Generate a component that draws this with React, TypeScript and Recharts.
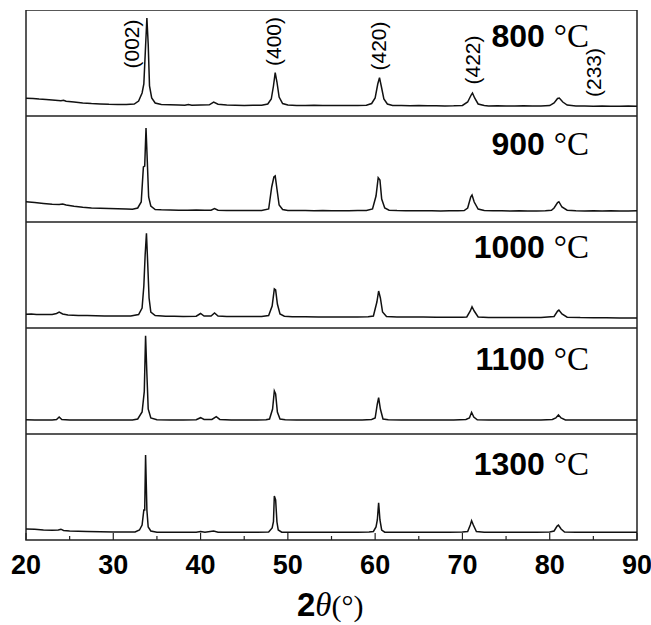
import { LineChart, Line, XAxis, YAxis, ReferenceArea, ReferenceDot } from 'recharts'

// 2θ (deg), intensity (a.u.)
const xrd800: [number, number][] = [
  [20, 178], [20.8, 176], [21.5, 170], [22.3, 166], [23, 160], [24, 152], [24.3, 158], [24.6, 148],
  [25.5, 140], [26.5, 130], [27.5, 124], [28.5, 120], [29.5, 117], [30.5, 116], [31.5, 115], [32.4, 120],
  [32.9, 150], [33.3, 230], [33.5, 320], [33.7, 700], [33.85, 980], [34.0, 720], [34.15, 300], [34.4, 180],
  [34.8, 130], [35.5, 115], [36.5, 112], [37.5, 110], [38.2, 108], [38.6, 115], [39, 108], [40, 110],
  [41, 112], [41.5, 140], [42, 118], [43, 110], [44, 108], [45, 106], [46, 108], [47, 108],
  [47.7, 120], [48.1, 170], [48.35, 300], [48.55, 433], [48.75, 340], [49.0, 190], [49.4, 125], [50, 110],
  [51, 106], [52, 104], [53, 108], [54, 104], [55, 106], [56, 104], [57, 104], [58, 106],
  [59, 108], [59.6, 125], [60.0, 180], [60.3, 320], [60.5, 383], [60.7, 300], [61.0, 170], [61.4, 120],
  [62, 106], [63, 104], [64, 102], [65, 104], [66, 102], [67, 102], [68, 100], [69, 102],
  [70, 106], [70.6, 140], [71.0, 210], [71.15, 230], [71.4, 180], [71.8, 120], [72.5, 104], [73, 100],
  [74, 102], [75, 100], [76, 100], [77, 102], [78, 100], [79, 100], [80, 104], [80.5, 130],
  [80.9, 175], [81.1, 180], [81.5, 140], [82, 110], [83, 100], [84, 100], [85, 98], [86, 100],
  [87, 98], [88, 98], [89, 100], [90, 98],
]

const xrd900: [number, number][] = [
  [20, 203], [21, 195], [22, 186], [23, 178], [23.8, 176], [24.2, 180], [24.6, 170], [25.5, 158],
  [26.5, 148], [27.5, 141], [28.5, 137], [29.5, 134], [30.5, 132], [31.5, 130], [32.2, 128], [32.8, 140],
  [33.2, 200], [33.45, 550], [33.6, 560], [33.75, 940], [33.9, 600], [34.05, 250], [34.3, 160], [34.8, 125],
  [35.5, 122], [36.5, 120], [37.5, 118], [38.5, 118], [39.5, 120], [40.5, 118], [41.2, 118], [41.6, 135],
  [42, 118], [43, 116], [44, 115], [45, 115], [46, 114], [47, 115], [47.8, 130], [48.15, 350],
  [48.4, 450], [48.55, 460], [48.75, 330], [49.0, 170], [49.4, 125], [50, 116], [51, 114], [52, 115],
  [53, 113], [54, 114], [55, 112], [56, 113], [57, 112], [58, 114], [59, 114], [59.7, 130],
  [60.1, 260], [60.35, 443], [60.55, 420], [60.75, 230], [61.1, 140], [61.6, 118], [62.5, 114], [63.5, 112],
  [64.5, 113], [65.5, 112], [66.5, 112], [67.5, 110], [68.5, 112], [69.5, 112], [70.2, 115], [70.6, 140],
  [70.95, 250], [71.1, 270], [71.35, 200], [71.8, 130], [72.5, 114], [73.5, 112], [74.5, 112], [75.5, 110],
  [76.5, 112], [77.5, 110], [78.5, 110], [79.5, 112], [80.2, 118], [80.5, 140], [80.9, 195], [81.05, 203],
  [81.4, 150], [82, 118], [83, 112], [84, 110], [85, 112], [86, 110], [87, 112], [88, 110],
  [89, 110], [90, 112],
]

const xrd1000: [number, number][] = [
  [20, 137], [20.6, 140], [21.2, 134], [22, 136], [23, 135], [23.5, 145], [23.8, 158], [24.2, 140],
  [24.8, 130], [26, 125], [27, 124], [28, 122], [29, 121], [30, 120], [31, 120], [32, 120],
  [32.9, 135], [33.3, 200], [33.5, 420], [33.65, 730], [33.8, 947], [33.95, 630], [34.1, 300], [34.3, 160],
  [34.8, 125], [36, 118], [37, 117], [38, 116], [39.5, 118], [40.0, 145], [40.4, 120], [41.2, 120],
  [41.6, 150], [42, 120], [43, 116], [44, 115], [45, 115], [46, 114], [47, 115], [47.8, 125],
  [48.2, 220], [48.45, 390], [48.6, 380], [48.8, 240], [49.1, 140], [49.6, 118], [50.5, 113], [52, 112],
  [53.5, 110], [55, 110], [56.5, 111], [58, 110], [59.2, 112], [59.8, 120], [60.2, 260], [60.4, 370],
  [60.6, 300], [60.85, 160], [61.3, 115], [62.5, 110], [64, 110], [65.5, 109], [67, 108], [68.5, 108],
  [70, 108], [70.5, 110], [70.9, 170], [71.1, 213], [71.35, 170], [71.8, 110], [73, 106], [74.5, 105],
  [76, 105], [77.5, 104], [79, 105], [80.5, 115], [80.9, 170], [81.05, 180], [81.4, 140], [82, 108],
  [83.5, 104], [85, 103], [86.5, 102], [88, 101], [90, 100],
]

const xrd1100: [number, number][] = [
  [20, 142], [21, 140], [22, 141], [23, 140], [23.5, 145], [23.8, 170], [24.1, 145], [25, 140],
  [26.5, 141], [28, 140], [29.5, 140], [31, 140], [32.2, 141], [32.8, 150], [33.3, 220], [33.55, 423],
  [33.7, 983], [33.85, 600], [34.0, 250], [34.3, 160], [35, 142], [36.5, 140], [38, 141], [39.5, 142],
  [40.0, 163], [40.4, 145], [41.3, 145], [41.8, 173], [42.2, 146], [43.5, 141], [45, 140], [46.5, 141],
  [47.5, 142], [47.9, 150], [48.25, 250], [48.45, 430], [48.6, 400], [48.8, 220], [49.1, 150], [49.7, 142],
  [51, 141], [52.5, 140], [54, 141], [55.5, 140], [57, 140], [58.5, 141], [59.6, 145], [60.0, 160],
  [60.25, 300], [60.4, 363], [60.6, 250], [60.9, 150], [61.5, 142], [63, 140], [64.5, 141], [66, 140],
  [67.5, 140], [69, 141], [70.4, 145], [70.8, 160], [71.05, 217], [71.3, 170], [71.7, 142], [73, 140],
  [74.5, 141], [76, 140], [77.5, 140], [79, 141], [80.3, 145], [80.7, 160], [81.0, 190], [81.3, 160],
  [81.8, 140], [83, 140], [84.5, 141], [86, 140], [87.5, 140], [89, 141], [90, 140],
]

const xrd1300: [number, number][] = [
  [20, 110], [21, 108], [22, 100], [23, 98], [23.7, 100], [24, 108], [24.3, 95], [25, 90],
  [26, 87], [27, 85], [28.5, 82], [30, 80], [31.5, 80], [32.5, 80], [33.0, 100], [33.3, 150],
  [33.5, 300], [33.6, 300], [33.7, 850], [33.85, 300], [34.0, 130], [34.3, 90], [35, 78], [36.5, 78],
  [38, 77], [39.5, 78], [40, 85], [40.5, 78], [41.5, 90], [42, 78], [43.5, 77], [45, 78],
  [46.5, 78], [47.8, 80], [48.2, 120], [48.35, 183], [48.45, 440], [48.6, 400], [48.75, 180], [48.9, 100],
  [49.3, 78], [50.5, 77], [52, 77], [53.5, 78], [55, 77], [56.5, 77], [58, 78], [59.3, 80],
  [59.8, 85], [60.1, 130], [60.25, 200], [60.4, 373], [60.55, 200], [60.75, 100], [61.1, 78], [62.5, 77],
  [64, 77], [65.5, 77], [67, 78], [68.5, 77], [70, 80], [70.6, 85], [70.9, 150], [71.05, 193],
  [71.25, 150], [71.6, 85], [72.5, 78], [74, 77], [75.5, 77], [77, 78], [78.5, 77], [80, 80],
  [80.5, 90], [80.85, 140], [81.0, 150], [81.3, 110], [81.7, 80], [83, 78], [84.5, 77], [86, 78],
  [87.5, 77], [89, 78], [90, 78],
]

const temps = ['800', '900', '1000', '1100', '1300']
const patterns = [xrd800, xrd900, xrd1000, xrd1100, xrd1300]

// Miller indices marked on the top pattern
const hkl = ['(002)', '(400)', '(420)', '(422)', '(233)']
const hklAt = [32.1, 48.3, 60.4, 71.2, 85.0]
const hklLevel = [720, 745, 700, 560, 435]

const xTicks = [20, 25, 30, 35, 40, 45, 50, 55, 60, 65, 70, 75, 80, 85, 90]

const SANS = '"Liberation Sans", Arial, sans-serif'
const SERIF = '"Liberation Serif", "Times New Roman", serif'
const PANEL_H = 106
const TOP = 10
const AXIS_H = 85
const labelDrop = [37, 39, 36, 42, 41]

function Tick({ x, y, payload }: any) {
  const major = payload.value % 10 === 0
  return (
    <g>
      <line x1={x} x2={x} y1={y} y2={y - (major ? 7 : 4)} stroke="#222" strokeWidth={1.2} />
      {major && (
        <text x={x} y={y + 34} textAnchor="middle" fontFamily={SANS} fontWeight="bold" fontSize={27} fill="#000">
          {payload.value}
        </text>
      )}
    </g>
  )
}

function HklLabel({ cx, cy, text }: any) {
  return (
    <text
      x={cx} y={cy}
      transform={`rotate(-90 ${cx} ${cy})`}
      textAnchor="middle" dominantBaseline="central"
      fontFamily={SANS} fontSize={21} fill="#000"
    >
      {text}
    </text>
  )
}

function Panel({ idx }: { idx: number }) {
  const last = idx === temps.length - 1
  const data = patterns[idx].map(([t, i]) => ({ t, i }))
  return (
    <div style={{ position: 'absolute', left: 0, top: TOP + idx * PANEL_H }}>
      <LineChart
        width={651}
        height={PANEL_H + (last ? AXIS_H : 0)}
        data={data}
        margin={{ top: 0, right: 14, bottom: 0, left: 26 }}
      >
        <XAxis
          dataKey="t" type="number" domain={[20, 90]} ticks={xTicks}
          hide={!last} height={AXIS_H} axisLine={false} tickLine={false}
          tickSize={0} tickMargin={0} tick={<Tick />} interval={0}
        />
        <YAxis hide domain={[0, 1060]} />
        <ReferenceArea x1={20} x2={90} y1={0} y2={1060} fill="none" stroke="#222" strokeWidth={1.5} />
        <Line type="linear" dataKey="i" stroke="#111" strokeWidth={1.5} dot={false} isAnimationActive={false} />
        {idx === 0 && hkl.map((h, k) => (
          <ReferenceDot
            key={h} x={hklAt[k]} y={hklLevel[k]} r={0}
            shape={(p: any) => <HklLabel cx={p.cx} cy={p.cy} text={h} />}
          />
        ))}
        <text x={589} y={labelDrop[idx]} textAnchor="end" fill="#000">
          <tspan fontFamily={SANS} fontWeight="bold" fontSize={32}>{temps[idx]} </tspan>
          <tspan fontFamily={SERIF} fontSize={33}>°C</tspan>
        </text>
        {last && (
          <text x={297} y={PANEL_H + 76} fill="#000">
            <tspan fontFamily={SANS} fontWeight="bold" fontSize={33}>2</tspan>
            <tspan fontFamily={SERIF} fontStyle="italic" fontSize={33}>θ</tspan>
            <tspan fontFamily={SERIF} fontSize={30}>(°)</tspan>
          </text>
        )}
      </LineChart>
    </div>
  )
}

export default function App() {
  return (
    <div style={{ position: 'absolute', left: 0, top: 0, width: 651, height: 625, background: '#fff' }}>
      {temps.map((t, i) => <Panel key={t} idx={i} />)}
    </div>
  )
}
